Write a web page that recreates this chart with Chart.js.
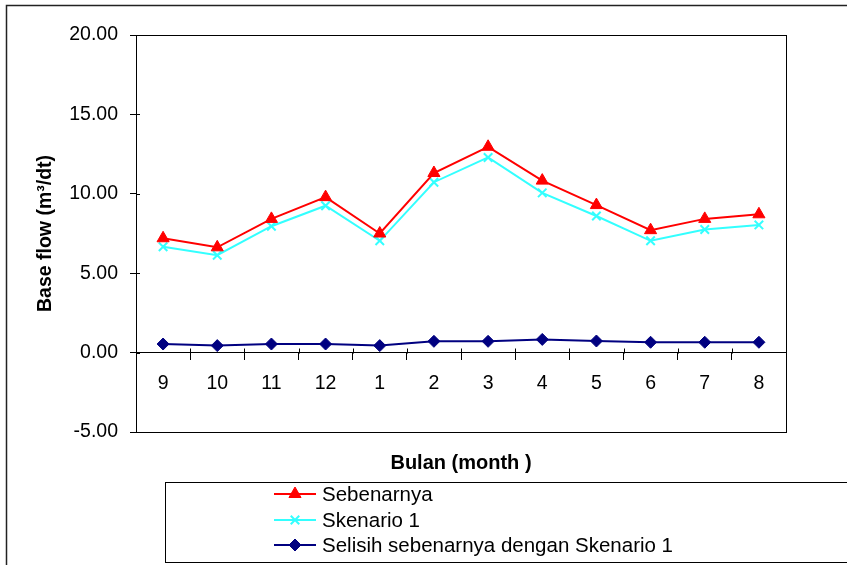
<!DOCTYPE html>
<html>
<head>
<meta charset="utf-8">
<script src="https://cdn.jsdelivr.net/npm/chart.js@4.4.1/dist/chart.umd.min.js"></script>
<style>
html, body { margin: 0; padding: 0; background: #fff; }
</style>
</head>
<body>
<canvas id="chart" width="847" height="565"></canvas>
<script>
/* data */
var months = ['9', '10', '11', '12', '1', '2', '3', '4', '5', '6', '7', '8'];
var sebenarnya = [7.20, 6.63, 8.42, 9.79, 7.50, 11.31, 12.96, 10.83, 9.29, 7.71, 8.42, 8.71];
var skenario1 = [6.67, 6.13, 7.96, 9.25, 7.04, 10.73, 12.29, 10.06, 8.60, 7.04, 7.75, 8.04];
var selisih = [0.54, 0.44, 0.54, 0.54, 0.44, 0.71, 0.71, 0.83, 0.73, 0.65, 0.65, 0.65];
var seriesNames = ['Sebenarnya', 'Skenario 1', 'Selisih sebenarnya dengan Skenario 1'];

var FONT = 'Arial, "Liberation Sans", sans-serif';

/* frame, plot box, inner tick marks, x title and legend box */
var decorPlugin = {
    id: 'decor',
    afterDraw: function(chart) {
        var ctx = chart.ctx;
        var area = chart.chartArea;
        var xs = chart.scales.x, ys = chart.scales.y;
        ctx.save();

        /* outer frame */
        ctx.strokeStyle = '#222';
        ctx.lineWidth = 1.5;
        ctx.strokeRect(6.5, 5.5, 900, 600);

        /* plot box */
        ctx.strokeStyle = '#000';
        ctx.lineWidth = 1;
        ctx.strokeRect(Math.round(area.left) + 0.5, Math.round(area.top) + 0.5,
            Math.round(area.right - area.left), Math.round(area.bottom - area.top));

        /* short tick marks reaching inside the axes */
        ctx.beginPath();
        ys.ticks.forEach(function(t) {
            var y = Math.round(ys.getPixelForValue(t.value)) + 0.5;
            ctx.moveTo(area.left, y);
            ctx.lineTo(area.left + 4, y);
        });
        var y0 = Math.round(ys.getPixelForValue(0)) + 0.5;
        for (var i = 1; i < months.length; i++) {
            var x = Math.round((xs.getPixelForValue(i - 1) + xs.getPixelForValue(i)) / 2) + 0.5;
            ctx.moveTo(x, y0);
            ctx.lineTo(x, y0 - 5);
        }
        ctx.stroke();

        /* x axis title */
        ctx.fillStyle = '#000';
        ctx.font = 'bold 20px ' + FONT;
        ctx.textAlign = 'center';
        ctx.textBaseline = 'middle';
        ctx.fillText('Bulan (month )', (area.left + area.right) / 2, 463);

        /* legend */
        ctx.strokeStyle = '#000';
        ctx.lineWidth = 1;
        ctx.strokeRect(165.5, 482.5, 700, 80);
        var rows = [494, 520, 545];
        ctx.font = '20.5px ' + FONT;
        ctx.textAlign = 'left';
        chart.data.datasets.forEach(function(ds, i) {
            var y = rows[i];
            ctx.strokeStyle = ds.borderColor;
            ctx.lineWidth = 2;
            ctx.beginPath();
            ctx.moveTo(274, y);
            ctx.lineTo(316, y);
            ctx.stroke();
            ctx.fillStyle = ds.pointBackgroundColor;
            ctx.strokeStyle = ds.pointBorderColor;
            ctx.lineWidth = ds.pointBorderWidth;
            Chart.helpers.drawPoint(ctx, {
                pointStyle: ds.pointStyle,
                radius: ds.pointRadius,
                rotation: 0,
                borderWidth: ds.pointBorderWidth
            }, 295, y);
            ctx.fillStyle = '#000';
            ctx.fillText(ds.label, 322, y + 1);
        });

        ctx.restore();
    }
};

var ctx = document.getElementById('chart');
new Chart(ctx, {
    type: 'line',
    data: {
        labels: months,
        datasets: [
            {
                label: seriesNames[0],
                data: sebenarnya,
                borderColor: '#ff0000',
                borderWidth: 2,
                pointStyle: 'triangle',
                pointRadius: 7,
                pointBackgroundColor: '#ff0000',
                pointBorderColor: '#ff0000',
                pointBorderWidth: 1,
                tension: 0
            },
            {
                label: seriesNames[1],
                data: skenario1,
                borderColor: '#33ffff',
                borderWidth: 2,
                pointStyle: 'crossRot',
                pointRadius: 6,
                pointBackgroundColor: '#33ffff',
                pointBorderColor: '#33ffff',
                pointBorderWidth: 2,
                tension: 0
            },
            {
                label: seriesNames[2],
                data: selisih,
                borderColor: '#000080',
                borderWidth: 2,
                pointStyle: 'rectRot',
                pointRadius: 6,
                pointBackgroundColor: '#000080',
                pointBorderColor: '#000080',
                pointBorderWidth: 1,
                tension: 0
            }
        ]
    },
    options: {
        responsive: false,
        animation: false,
        layout: {
            padding: { left: 0, right: 61, top: 35, bottom: 133 }
        },
        plugins: {
            legend: { display: false },
            tooltip: { enabled: false }
        },
        scales: {
            x: {
                position: { y: 0 },
                offset: true,
                grid: {
                    display: true,
                    drawOnChartArea: false,
                    drawTicks: true,
                    tickLength: 7,
                    color: '#000',
                    offset: true
                },
                border: { display: true, color: '#000', width: 1 },
                ticks: {
                    color: '#000',
                    padding: 12,
                    font: { family: FONT, size: 19.5 },
                    maxRotation: 0
                }
            },
            y: {
                min: -5,
                max: 20,
                afterFit: function(scale) { scale.width = 136; },
                grid: {
                    drawOnChartArea: false,
                    drawTicks: true,
                    tickLength: 6,
                    color: '#000'
                },
                border: { display: true, color: '#000', width: 1 },
                ticks: {
                    stepSize: 5,
                    color: '#000',
                    padding: 12,
                    font: { family: FONT, size: 19.5 },
                    callback: function(v) { return v.toFixed(2); }
                },
                title: {
                    display: true,
                    text: 'Base flow (m³/dt)',
                    color: '#000',
                    font: { family: FONT, size: 19.5, weight: 'bold' },
                    padding: { top: 34, bottom: 0 }
                }
            }
        }
    },
    plugins: [decorPlugin]
});
</script>
</body>
</html>
